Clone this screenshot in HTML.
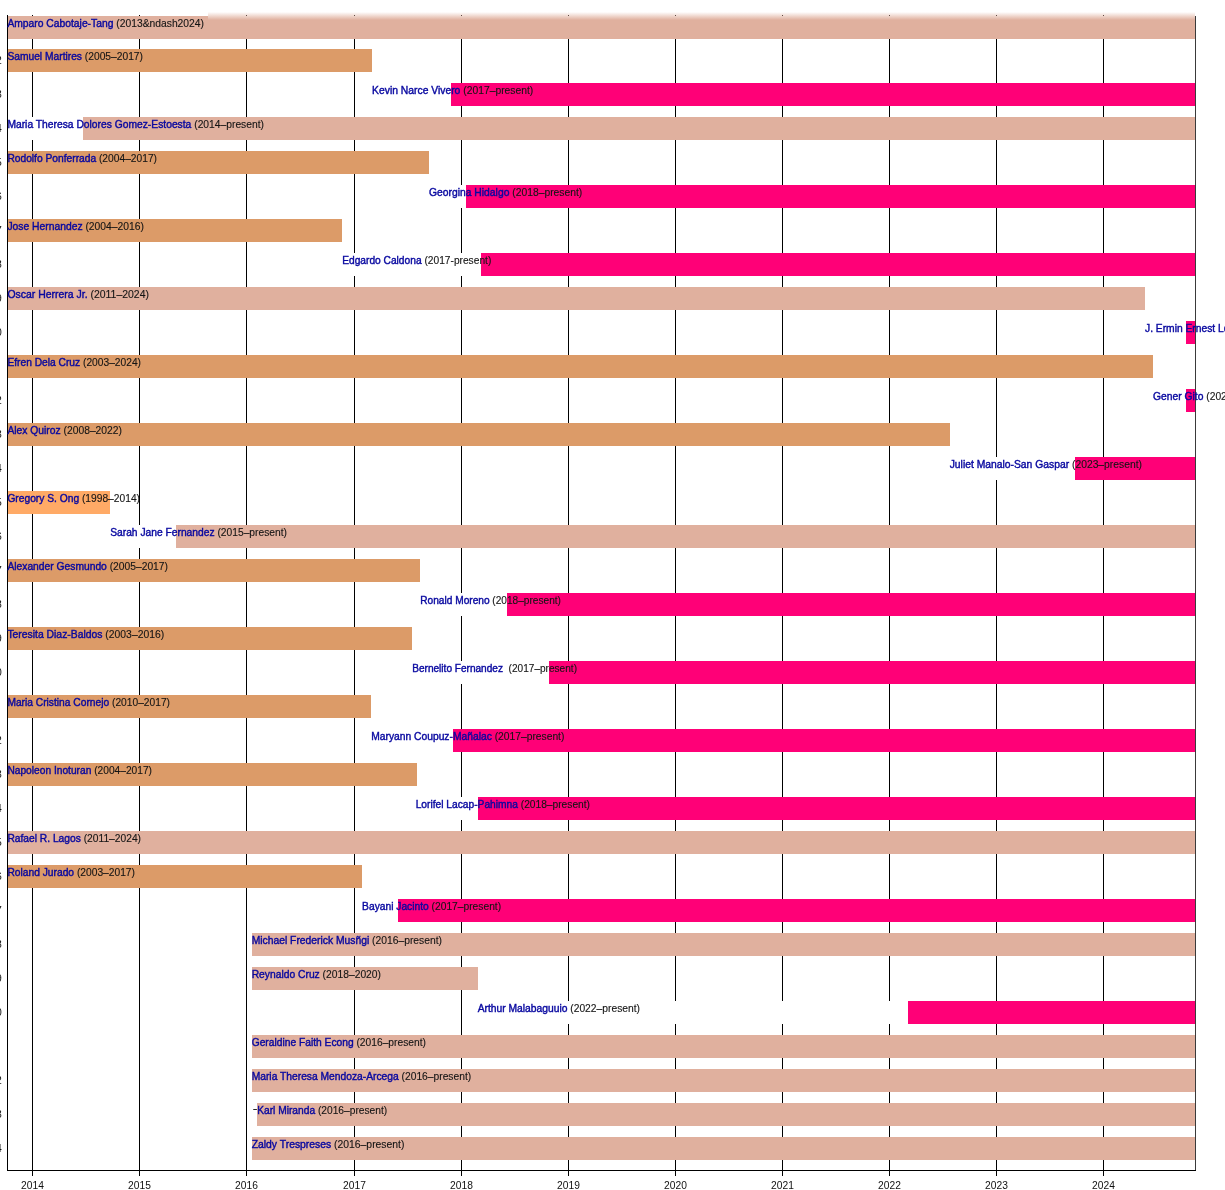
<!DOCTYPE html>
<html lang="en"><head><meta charset="utf-8"><title>Timeline</title>
<style>
html,body{margin:0;padding:0;background:#fff;}
body{width:1225px;height:1190px;overflow:hidden;}
svg{display:block;}
text{font-family:"Liberation Sans",sans-serif;font-size:10.4px;}
.n{fill:#0808a0;stroke:#0808a0;stroke-width:0.4px;}
.r{fill:#151515;stroke:#151515;stroke-width:0.12px;}
.ax{fill:#111;font-size:10.4px;}
</style></head><body>
<svg width="1225" height="1190" viewBox="0 0 1225 1190">
<defs><linearGradient id="fade" x1="0" y1="0" x2="0" y2="1"><stop offset="0" stop-color="#E0B09E" stop-opacity="0"/><stop offset="1" stop-color="#E0B09E" stop-opacity="0.5"/></linearGradient>
<linearGradient id="fade2" x1="0" y1="0" x2="0" y2="1"><stop offset="0" stop-color="#fff" stop-opacity="0.5"/><stop offset="1" stop-color="#fff" stop-opacity="0"/></linearGradient></defs>
<rect x="0" y="0" width="1225" height="1190" fill="#fff"/>

<g fill="#000" shape-rendering="crispEdges">
<rect x="32" y="15" width="1" height="1161"/>
<rect x="139" y="15" width="1" height="1161"/>
<rect x="246" y="15" width="1" height="1161"/>
<rect x="354" y="15" width="1" height="1161"/>
<rect x="461" y="15" width="1" height="1161"/>
<rect x="568" y="15" width="1" height="1161"/>
<rect x="675" y="15" width="1" height="1161"/>
<rect x="782" y="15" width="1" height="1161"/>
<rect x="889" y="15" width="1" height="1161"/>
<rect x="996" y="15" width="1" height="1161"/>
<rect x="1103" y="15" width="1" height="1161"/>
</g>
<g shape-rendering="crispEdges">
<rect x="7" y="16.0" width="1188" height="22.6" fill="#E0B09E"/>
<rect x="7" y="49.0" width="365" height="22.7" fill="#DC9B68"/>
<rect x="372" y="83.0" width="79" height="22.7" fill="#FFFFFF"/>
<rect x="451" y="83.0" width="744" height="22.7" fill="#FF0077"/>
<rect x="7" y="117.0" width="76" height="22.7" fill="#FFFFFF"/>
<rect x="83" y="117.0" width="1112" height="22.7" fill="#E0B09E"/>
<rect x="7" y="151.0" width="422" height="22.7" fill="#DC9B68"/>
<rect x="429" y="185.0" width="37" height="22.7" fill="#FFFFFF"/>
<rect x="466" y="185.0" width="729" height="22.7" fill="#FF0077"/>
<rect x="7" y="219.0" width="335" height="22.7" fill="#DC9B68"/>
<rect x="342" y="253.0" width="139" height="22.7" fill="#FFFFFF"/>
<rect x="481" y="253.0" width="714" height="22.7" fill="#FF0077"/>
<rect x="7" y="287.0" width="1138" height="22.7" fill="#E0B09E"/>
<rect x="1145" y="321.0" width="41" height="22.7" fill="#FFFFFF"/>
<rect x="1186" y="321.0" width="9" height="22.7" fill="#FF0077"/>
<rect x="7" y="355.0" width="1146" height="22.7" fill="#DC9B68"/>
<rect x="1153" y="389.0" width="33" height="22.7" fill="#FFFFFF"/>
<rect x="1186" y="389.0" width="9" height="22.7" fill="#FF0077"/>
<rect x="7" y="423.0" width="943" height="22.7" fill="#DC9B68"/>
<rect x="950" y="457.0" width="125" height="22.7" fill="#FFFFFF"/>
<rect x="1075" y="457.0" width="120" height="22.7" fill="#FF0077"/>
<rect x="7" y="491.0" width="103" height="22.7" fill="#FFAA66"/>
<rect x="110" y="525.0" width="66" height="22.7" fill="#FFFFFF"/>
<rect x="176" y="525.0" width="1019" height="22.7" fill="#E0B09E"/>
<rect x="7" y="559.0" width="413" height="22.7" fill="#DC9B68"/>
<rect x="420" y="593.0" width="87" height="22.7" fill="#FFFFFF"/>
<rect x="507" y="593.0" width="688" height="22.7" fill="#FF0077"/>
<rect x="7" y="627.0" width="405" height="22.7" fill="#DC9B68"/>
<rect x="412" y="661.0" width="137" height="22.7" fill="#FFFFFF"/>
<rect x="549" y="661.0" width="646" height="22.7" fill="#FF0077"/>
<rect x="7" y="695.0" width="364" height="22.7" fill="#DC9B68"/>
<rect x="371" y="729.0" width="82" height="22.7" fill="#FFFFFF"/>
<rect x="453" y="729.0" width="742" height="22.7" fill="#FF0077"/>
<rect x="7" y="763.0" width="409.6" height="22.7" fill="#DC9B68"/>
<rect x="416" y="797.0" width="62" height="22.7" fill="#FFFFFF"/>
<rect x="478" y="797.0" width="717" height="22.7" fill="#FF0077"/>
<rect x="7" y="831.0" width="1188" height="22.7" fill="#E0B09E"/>
<rect x="7" y="865.0" width="355" height="22.7" fill="#DC9B68"/>
<rect x="362" y="899.0" width="36" height="22.7" fill="#FFFFFF"/>
<rect x="398" y="899.0" width="797" height="22.7" fill="#FF0077"/>
<rect x="252" y="933.0" width="943" height="22.7" fill="#E0B09E"/>
<rect x="252" y="967.0" width="226" height="22.7" fill="#E0B09E"/>
<rect x="478" y="1001.0" width="430" height="22.7" fill="#FFFFFF"/>
<rect x="908" y="1001.0" width="287" height="22.7" fill="#FF0077"/>
<rect x="252" y="1035.0" width="943" height="22.7" fill="#E0B09E"/>
<rect x="252" y="1069.0" width="943" height="22.7" fill="#E0B09E"/>
<rect x="252" y="1103.0" width="5" height="22.7" fill="#FFFFFF"/>
<rect x="257" y="1103.0" width="938" height="22.7" fill="#E0B09E"/>
<rect x="252" y="1137.0" width="943" height="22.7" fill="#E0B09E"/>
</g>
<rect x="208" y="12" width="987" height="4" fill="url(#fade)"/>
<rect x="208" y="16" width="987" height="4" fill="url(#fade2)"/>
<g fill="#000" shape-rendering="crispEdges">
<rect x="7" y="15" width="1" height="1156"/>
<rect x="1195" y="16" width="1" height="1155" fill="#3a3a3a"/>
<rect x="7" y="1170" width="1189" height="1"/>
</g>
<g class="ax" text-anchor="end">
<text x="-1.0" y="31.4">1</text>
<text x="1.8" y="64.4">2</text>
<text x="1.8" y="98.4">3</text>
<text x="1.8" y="132.4">4</text>
<text x="1.8" y="166.4">5</text>
<text x="1.8" y="200.4">6</text>
<text x="1.8" y="234.4">7</text>
<text x="1.8" y="268.4">8</text>
<text x="1.8" y="302.4">9</text>
<text x="1.8" y="336.4">10</text>
<text x="-1.0" y="370.4">11</text>
<text x="1.8" y="404.4">12</text>
<text x="1.8" y="438.4">13</text>
<text x="1.8" y="472.4">14</text>
<text x="1.8" y="506.4">15</text>
<text x="1.8" y="540.4">16</text>
<text x="1.8" y="574.4">17</text>
<text x="1.8" y="608.4">18</text>
<text x="1.8" y="642.4">19</text>
<text x="1.8" y="676.4">20</text>
<text x="-1.0" y="710.4">21</text>
<text x="1.8" y="744.4">22</text>
<text x="1.8" y="778.4">23</text>
<text x="1.8" y="812.4">24</text>
<text x="1.8" y="846.4">25</text>
<text x="1.8" y="880.4">26</text>
<text x="1.8" y="914.4">27</text>
<text x="1.8" y="948.4">28</text>
<text x="1.8" y="982.4">29</text>
<text x="1.8" y="1016.4">30</text>
<text x="-1.0" y="1050.4">31</text>
<text x="1.8" y="1084.4">32</text>
<text x="1.8" y="1118.4">33</text>
<text x="1.8" y="1152.4">34</text>
</g>
<g class="ax" text-anchor="middle">
<text x="32.5" y="1188.6" textLength="22.8" lengthAdjust="spacingAndGlyphs">2014</text>
<text x="139.5" y="1188.6" textLength="22.8" lengthAdjust="spacingAndGlyphs">2015</text>
<text x="246.5" y="1188.6" textLength="22.8" lengthAdjust="spacingAndGlyphs">2016</text>
<text x="354.5" y="1188.6" textLength="22.8" lengthAdjust="spacingAndGlyphs">2017</text>
<text x="461.5" y="1188.6" textLength="22.8" lengthAdjust="spacingAndGlyphs">2018</text>
<text x="568.5" y="1188.6" textLength="22.8" lengthAdjust="spacingAndGlyphs">2019</text>
<text x="675.5" y="1188.6" textLength="22.8" lengthAdjust="spacingAndGlyphs">2020</text>
<text x="782.5" y="1188.6" textLength="22.8" lengthAdjust="spacingAndGlyphs">2021</text>
<text x="889.5" y="1188.6" textLength="22.8" lengthAdjust="spacingAndGlyphs">2022</text>
<text x="996.5" y="1188.6" textLength="22.8" lengthAdjust="spacingAndGlyphs">2023</text>
<text x="1103.5" y="1188.6" textLength="22.8" lengthAdjust="spacingAndGlyphs">2024</text>
</g>
<g>
<text x="7.4" y="27.2" textLength="196.6" lengthAdjust="spacingAndGlyphs" xml:space="preserve"><tspan class="n">Amparo Cabotaje-Tang</tspan><tspan class="r"> (2013&amp;ndash2024)</tspan></text>
<text x="7.4" y="59.5" textLength="135.6" lengthAdjust="spacingAndGlyphs" xml:space="preserve"><tspan class="n">Samuel Martires</tspan><tspan class="r"> (2005–2017)</tspan></text>
<text x="372.1" y="93.5" textLength="161.2" lengthAdjust="spacingAndGlyphs" xml:space="preserve"><tspan class="n">Kevin Narce Vivero</tspan><tspan class="r"> (2017–present)</tspan></text>
<text x="7.4" y="127.5" textLength="256.6" lengthAdjust="spacingAndGlyphs" xml:space="preserve"><tspan class="n">Maria Theresa Dolores Gomez-Estoesta</tspan><tspan class="r"> (2014–present)</tspan></text>
<text x="7.4" y="161.5" textLength="149.6" lengthAdjust="spacingAndGlyphs" xml:space="preserve"><tspan class="n">Rodolfo Ponferrada</tspan><tspan class="r"> (2004–2017)</tspan></text>
<text x="429.0" y="195.5" textLength="153.3" lengthAdjust="spacingAndGlyphs" xml:space="preserve"><tspan class="n">Georgina Hidalgo</tspan><tspan class="r"> (2018–present)</tspan></text>
<text x="7.4" y="229.5" textLength="136.6" lengthAdjust="spacingAndGlyphs" xml:space="preserve"><tspan class="n">Jose Hernandez</tspan><tspan class="r"> (2004–2016)</tspan></text>
<text x="342.2" y="263.5" textLength="149.1" lengthAdjust="spacingAndGlyphs" xml:space="preserve"><tspan class="n">Edgardo Caldona</tspan><tspan class="r"> (2017-present)</tspan></text>
<text x="7.4" y="297.5" textLength="141.6" lengthAdjust="spacingAndGlyphs" xml:space="preserve"><tspan class="n">Oscar Herrera Jr.</tspan><tspan class="r"> (2011–2024)</tspan></text>
<text x="1145.0" y="331.5" textLength="203.7" lengthAdjust="spacingAndGlyphs" xml:space="preserve"><tspan class="n">J. Ermin Ernest Louie Miguel</tspan><tspan class="r"> (2024–present)</tspan></text>
<text x="7.4" y="365.5" textLength="133.6" lengthAdjust="spacingAndGlyphs" xml:space="preserve"><tspan class="n">Efren Dela Cruz</tspan><tspan class="r"> (2003–2024)</tspan></text>
<text x="1153.1" y="399.5" textLength="122.9" lengthAdjust="spacingAndGlyphs" xml:space="preserve"><tspan class="n">Gener Gito</tspan><tspan class="r"> (2024–present)</tspan></text>
<text x="7.4" y="433.5" textLength="114.6" lengthAdjust="spacingAndGlyphs" xml:space="preserve"><tspan class="n">Alex Quiroz</tspan><tspan class="r"> (2008–2022)</tspan></text>
<text x="949.7" y="467.5" textLength="192.3" lengthAdjust="spacingAndGlyphs" xml:space="preserve"><tspan class="n">Juliet Manalo-San Gaspar</tspan><tspan class="r"> (2023–present)</tspan></text>
<text x="7.4" y="501.5" textLength="132.6" lengthAdjust="spacingAndGlyphs" xml:space="preserve"><tspan class="n">Gregory S. Ong</tspan><tspan class="r"> (1998–2014)</tspan></text>
<text x="110.2" y="535.5" textLength="176.8" lengthAdjust="spacingAndGlyphs" xml:space="preserve"><tspan class="n">Sarah Jane Fernandez</tspan><tspan class="r"> (2015–present)</tspan></text>
<text x="7.4" y="569.5" textLength="160.6" lengthAdjust="spacingAndGlyphs" xml:space="preserve"><tspan class="n">Alexander Gesmundo</tspan><tspan class="r"> (2005–2017)</tspan></text>
<text x="420.3" y="603.5" textLength="140.7" lengthAdjust="spacingAndGlyphs" xml:space="preserve"><tspan class="n">Ronald Moreno</tspan><tspan class="r"> (2018–present)</tspan></text>
<text x="7.4" y="637.5" textLength="156.8" lengthAdjust="spacingAndGlyphs" xml:space="preserve"><tspan class="n">Teresita Diaz-Baldos</tspan><tspan class="r"> (2003–2016)</tspan></text>
<text x="412.2" y="671.5" textLength="164.8" lengthAdjust="spacingAndGlyphs" xml:space="preserve"><tspan class="n">Bernelito Fernandez</tspan><tspan class="r">  (2017–present)</tspan></text>
<text x="7.4" y="705.5" textLength="162.6" lengthAdjust="spacingAndGlyphs" xml:space="preserve"><tspan class="n">Maria Cristina Cornejo</tspan><tspan class="r"> (2010–2017)</tspan></text>
<text x="371.2" y="739.5" textLength="193.2" lengthAdjust="spacingAndGlyphs" xml:space="preserve"><tspan class="n">Maryann Coupuz-Mañalac</tspan><tspan class="r"> (2017–present)</tspan></text>
<text x="7.4" y="773.5" textLength="144.6" lengthAdjust="spacingAndGlyphs" xml:space="preserve"><tspan class="n">Napoleon Inoturan</tspan><tspan class="r"> (2004–2017)</tspan></text>
<text x="415.7" y="807.5" textLength="174.3" lengthAdjust="spacingAndGlyphs" xml:space="preserve"><tspan class="n">Lorifel Lacap-Pahimna</tspan><tspan class="r"> (2018–present)</tspan></text>
<text x="7.4" y="841.5" textLength="133.6" lengthAdjust="spacingAndGlyphs" xml:space="preserve"><tspan class="n">Rafael R. Lagos</tspan><tspan class="r"> (2011–2024)</tspan></text>
<text x="7.4" y="875.5" textLength="127.6" lengthAdjust="spacingAndGlyphs" xml:space="preserve"><tspan class="n">Roland Jurado</tspan><tspan class="r"> (2003–2017)</tspan></text>
<text x="362.1" y="909.5" textLength="139.0" lengthAdjust="spacingAndGlyphs" xml:space="preserve"><tspan class="n">Bayani Jacinto</tspan><tspan class="r"> (2017–present)</tspan></text>
<text x="251.7" y="943.5" textLength="190.3" lengthAdjust="spacingAndGlyphs" xml:space="preserve"><tspan class="n">Michael Frederick Musñgi</tspan><tspan class="r"> (2016–present)</tspan></text>
<text x="251.7" y="977.5" textLength="129.3" lengthAdjust="spacingAndGlyphs" xml:space="preserve"><tspan class="n">Reynaldo Cruz</tspan><tspan class="r"> (2018–2020)</tspan></text>
<text x="477.7" y="1011.5" textLength="162.3" lengthAdjust="spacingAndGlyphs" xml:space="preserve"><tspan class="n">Arthur Malabaguuio</tspan><tspan class="r"> (2022–present)</tspan></text>
<text x="251.7" y="1045.5" textLength="174.2" lengthAdjust="spacingAndGlyphs" xml:space="preserve"><tspan class="n">Geraldine Faith Econg</tspan><tspan class="r"> (2016–present)</tspan></text>
<text x="251.7" y="1079.5" textLength="219.5" lengthAdjust="spacingAndGlyphs" xml:space="preserve"><tspan class="n">Maria Theresa Mendoza-Arcega</tspan><tspan class="r"> (2016–present)</tspan></text>
<text x="253" y="1112.3" class="r" style="stroke-width:0.35px" textLength="4.2" lengthAdjust="spacingAndGlyphs">-</text>
<text x="257.2" y="1113.5" textLength="130.0" lengthAdjust="spacingAndGlyphs" xml:space="preserve"><tspan class="n">Karl Miranda</tspan><tspan class="r"> (2016–present)</tspan></text>
<text x="251.7" y="1147.5" textLength="152.7" lengthAdjust="spacingAndGlyphs" xml:space="preserve"><tspan class="n">Zaldy Trespreses</tspan><tspan class="r"> (2016–present)</tspan></text>
</g>
</svg>
</body></html>
